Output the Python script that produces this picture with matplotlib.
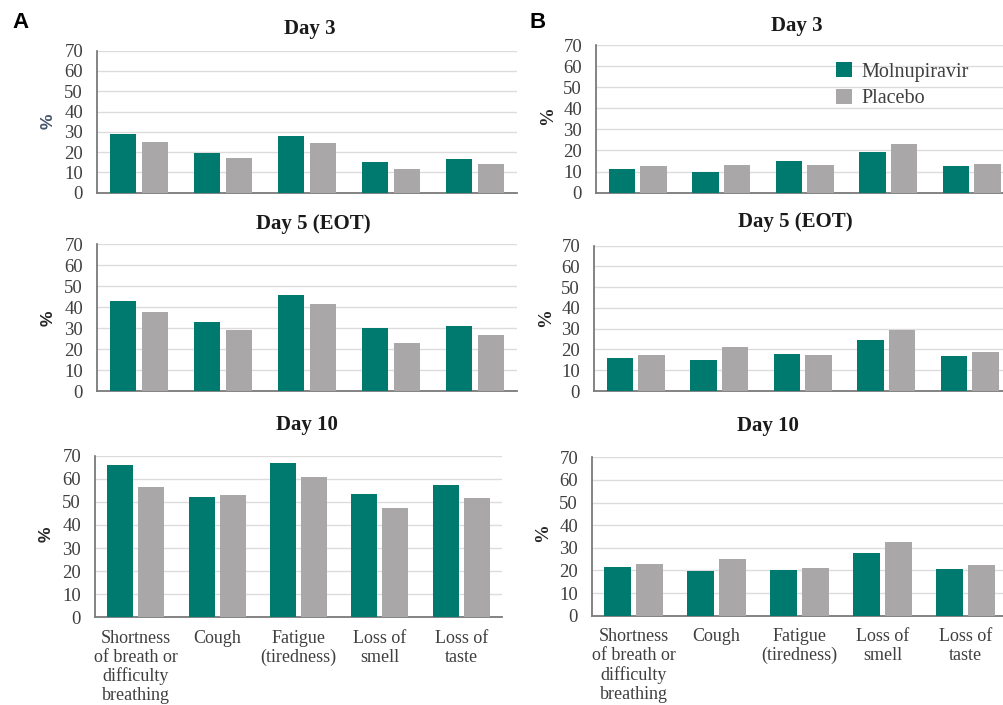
import matplotlib
matplotlib.use("Agg")
import matplotlib.pyplot as plt
from matplotlib.patches import Patch
import numpy as np

# ---- data -------------------------------------------------------------
categories = ["Shortness\nof breath or\ndifficulty\nbreathing", "Cough",
              "Fatigue\n(tiredness)", "Loss of\nsmell", "Loss of\ntaste"]
series_names = ["Molnupiravir", "Placebo"]
y_ticks = [0, 10, 20, 30, 40, 50, 60, 70]
titles = ["Day 3", "Day 5 (EOT)", "Day 10"]

a_day3_mol = [28.8, 19.4, 27.9, 15.3, 16.4]
a_day3_pla = [25.1, 17.1, 24.6, 11.5, 14.3]
a_day5_mol = [43.1, 32.8, 45.7, 30.1, 31.0]
a_day5_pla = [37.9, 29.1, 41.4, 23.1, 26.9]
a_day10_mol = [65.8, 51.9, 66.8, 53.4, 57.4]
a_day10_pla = [56.3, 52.8, 60.9, 47.4, 51.8]

b_day3_mol = [11.4, 9.9, 15.2, 19.3, 12.5]
b_day3_pla = [12.5, 13.1, 13.3, 22.9, 13.6]
b_day5_mol = [16.0, 15.1, 17.7, 24.4, 16.7]
b_day5_pla = [17.3, 21.2, 17.2, 29.4, 18.8]
b_day10_mol = [21.4, 19.9, 20.3, 27.9, 20.8]
b_day10_pla = [23.0, 24.9, 20.9, 32.6, 22.3]

# ---- style ------------------------------------------------------------
W, H, DPI = 1004, 705, 100
TEAL = "#007A6E"
GREY = "#A9A7A7"
TEXT = "#3F3F3F"
SERIF = "Liberation Serif"
SANS = "Liberation Sans"

fig = plt.figure(figsize=(W / DPI, H / DPI), dpi=DPI)
fig.patch.set_facecolor("white")


def px_axes(left, right, top, bottom):
    return fig.add_axes([left / W, 1 - bottom / H, (right - left) / W, (bottom - top) / H])


def panel(box, mol, pla, title, title_xy, ylab_xy, ylab_style, show_xlabels=False):
    ax = px_axes(*box)
    x = np.arange(len(categories))
    w = 0.32
    off = 0.19
    ax.bar(x - off, mol, w, color=TEAL, zorder=3)
    ax.bar(x + off, pla, w, color=GREY, zorder=3)
    ax.set_xlim(-0.5, len(categories) - 0.5)
    ax.set_ylim(0, 70)
    ax.set_yticks(y_ticks)
    ax.set_yticklabels([str(t) for t in y_ticks], fontfamily=SERIF, fontsize=13.5, color=TEXT)
    ax.tick_params(axis="y", length=0, pad=10)
    ax.tick_params(axis="x", length=0, pad=9)
    if show_xlabels:
        ax.set_xticks(x)
        ax.set_xticklabels(categories, fontfamily=SERIF, fontsize=13, color=TEXT,
                           linespacing=1.14, va="top")
    else:
        ax.set_xticks([])
    ax.grid(axis="y", color="#DCDCDC", linewidth=1.0, zorder=0)
    for s in ("top", "right"):
        ax.spines[s].set_visible(False)
    ax.spines["left"].set_color("#6E6E6E")
    ax.spines["left"].set_linewidth(1.2)
    ax.spines["bottom"].set_color("#7A7A7A")
    ax.spines["bottom"].set_linewidth(1.3)
    ax.set_facecolor("white")
    fig.text(title_xy[0] / W, 1 - title_xy[1] / H, title, ha="center", va="center",
             fontfamily=SERIF, fontweight="bold", fontsize=15, color="#1A1A1A")
    fig.text(ylab_xy[0] / W, 1 - ylab_xy[1] / H, "%", ha="center", va="center",
             rotation=90, **ylab_style)
    return ax


sans_dark = dict(fontfamily=SANS, fontweight="bold", fontsize=12.5, color="#262626")
sans_blue = dict(fontfamily=SANS, fontweight="bold", fontsize=12.5, color="#44546A")
serif_bold = dict(fontfamily=SERIF, fontweight="bold", fontsize=13.5, color="#262626")

# Panel A
panel((97, 517, 50.7, 192.7), a_day3_mol, a_day3_pla, titles[0], (310, 29), (48, 121), sans_blue)
panel((97, 517, 244.3, 391), a_day5_mol, a_day5_pla, titles[1], (313, 224), (48, 318), sans_dark)
panel((95, 502, 455.7, 617.3), a_day10_mol, a_day10_pla, titles[2], (307, 425), (46, 534), sans_dark,
      show_xlabels=True)

# Panel B
axb = panel((596, 1013.5, 45, 192.7), b_day3_mol, b_day3_pla, titles[0], (797, 26), (548, 116), serif_bold)
panel((594, 1011.5, 245.7, 391), b_day5_mol, b_day5_pla, titles[1], (795, 222), (546, 318), serif_bold)
panel((592, 1007, 457.3, 615.7), b_day10_mol, b_day10_pla, titles[2], (768, 426), (543, 533), serif_bold,
      show_xlabels=True)

# Legend inside the top-right chart
handles = [Patch(facecolor=TEAL, edgecolor="none"), Patch(facecolor=GREY, edgecolor="none")]
leg = axb.legend(handles, series_names, loc="upper left",
                 bbox_to_anchor=((836 - 596) / (1013.5 - 596), 1 - (62 - 45) / (192.7 - 45)),
                 frameon=False, prop=dict(family=SERIF, size=14.5),
                 handlelength=0.8, handleheight=0.8, handletextpad=0.45,
                 labelspacing=0.35, borderaxespad=0, borderpad=0)
for t in leg.get_texts():
    t.set_color(TEXT)

# Panel letters
fig.text(12 / W, 1 - 23 / H, "A", fontfamily=SANS, fontweight="bold", fontsize=16, va="center", ha="left")
fig.text(530 / W, 1 - 23 / H, "B", fontfamily=SANS, fontweight="bold", fontsize=16, va="center", ha="left")

fig.savefig("out.png", dpi=DPI, facecolor="white")
